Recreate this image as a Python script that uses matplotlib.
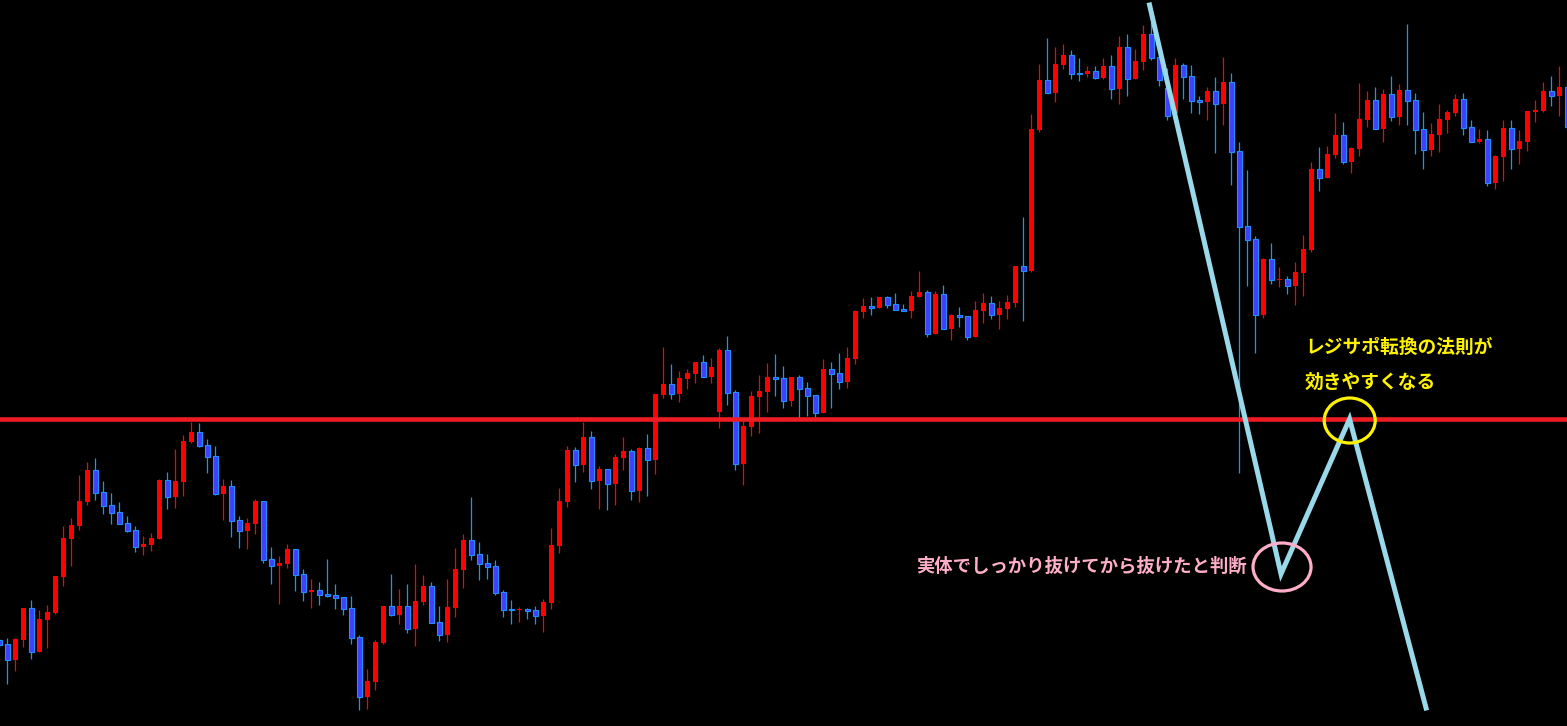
import matplotlib.pyplot as plt
from matplotlib.patches import Ellipse

plt.rcParams['font.family'] = ['Noto Sans CJK JP', 'DejaVu Sans']

# candle data (open, high, low, close)
opens = [86, 82, 66, 86, 118, 74, 106, 113, 149, 187, 200, 224, 256, 234, 221, 214, 203, 196, 179, 181,
         187, 246, 229, 244, 284, 294, 281, 270, 232, 240, 206, 195, 202, 225, 167, 160, 162, 177, 152, 134,
         136, 132, 131, 129, 118, 89, 29, 44, 83, 120, 111, 120, 97, 124, 140, 104, 91, 118, 156, 186,
         172, 163, 160, 134, 117, 116, 117, 116, 110, 123, 180, 224, 276, 261, 289, 245, 257, 242, 268, 275,
         235, 278, 266, 331, 342, 332, 347, 352, 364, 349, 314, 376, 334, 262, 299, 329, 334, 349, 348, 325,
         349, 338, 331, 313, 357, 353, 344, 367, 414, 420, 418, 429, 422, 417, 415, 429, 434, 392, 432, 397,
         411, 410, 389, 415, 423, 411, 417, 423, 460, 455, 596, 646, 633, 661, 671, 653, 652, 655, 648, 660,
         637, 679, 647, 664, 692, 669, 638, 613, 661, 650, 626, 624, 635, 622, 644, 575, 500, 487, 411, 467,
         446, 447, 440, 453, 476, 557, 548, 571, 591, 564, 577, 606, 626, 597, 632, 609, 636, 626, 597, 576,
         591, 606, 613, 627, 599, 584, 587, 543, 569, 598, 577, 584, 614, 615, 635, 630, 639]
highs = [88, 88, 88, 118, 126, 116, 121, 150, 200, 208, 251, 264, 268, 245, 233, 224, 210, 200, 190, 193,
         247, 254, 277, 291, 304, 303, 287, 280, 247, 246, 210, 208, 227, 225, 179, 170, 182, 177, 157, 147,
         144, 167, 142, 129, 130, 91, 57, 86, 120, 152, 137, 142, 162, 151, 144, 120, 147, 178, 192, 229,
         184, 172, 166, 136, 126, 119, 118, 120, 127, 198, 238, 280, 279, 304, 295, 260, 257, 272, 289, 277,
         279, 292, 332, 379, 362, 355, 357, 364, 371, 368, 378, 390, 336, 306, 335, 351, 363, 372, 360, 349,
         351, 344, 331, 367, 364, 373, 379, 416, 428, 429, 429, 430, 433, 422, 435, 455, 436, 435, 441, 412,
         419, 410, 425, 433, 430, 425, 431, 460, 509, 612, 662, 688, 679, 682, 676, 668, 660, 660, 668, 671,
         690, 692, 677, 701, 704, 676, 658, 668, 663, 661, 630, 639, 649, 669, 653, 584, 556, 490, 468, 483,
         459, 450, 464, 491, 564, 579, 580, 613, 604, 579, 643, 635, 639, 637, 650, 642, 702, 633, 614, 603,
         622, 616, 632, 633, 606, 597, 596, 571, 606, 606, 596, 615, 626, 644, 650, 660, 646]
lows = [78, 42, 55, 79, 67, 74, 78, 112, 140, 160, 196, 221, 226, 212, 202, 202, 194, 174, 171, 175,
        187, 217, 218, 230, 283, 279, 253, 231, 206, 189, 178, 177, 192, 163, 142, 122, 158, 135, 125, 118,
        121, 129, 117, 111, 82, 16, 17, 36, 82, 110, 102, 93, 80, 121, 103, 85, 84, 109, 138, 166,
        146, 147, 131, 109, 102, 104, 107, 102, 94, 117, 173, 219, 244, 254, 237, 217, 216, 221, 256, 226,
        224, 230, 252, 328, 327, 324, 337, 343, 349, 343, 298, 321, 256, 241, 290, 293, 314, 330, 318, 320,
        308, 310, 308, 313, 318, 337, 338, 362, 408, 411, 418, 418, 416, 415, 408, 429, 389, 392, 397, 386,
        399, 386, 389, 403, 407, 397, 407, 419, 405, 454, 594, 633, 624, 657, 647, 645, 649, 647, 647, 627,
        622, 630, 647, 656, 666, 640, 606, 608, 627, 613, 612, 606, 573, 601, 541, 253, 440, 373, 408, 442,
        439, 432, 421, 430, 474, 535, 548, 568, 562, 553, 570, 599, 597, 584, 605, 601, 601, 572, 557, 570,
        574, 593, 610, 591, 584, 583, 540, 537, 545, 557, 562, 575, 604, 614, 620, 610, 596]
closes = [81, 66, 87, 118, 74, 107, 114, 150, 188, 201, 225, 256, 233, 220, 213, 202, 195, 179, 182, 188,
          246, 229, 245, 285, 294, 280, 269, 232, 240, 205, 195, 203, 225, 166, 160, 163, 177, 151, 134, 136,
          131, 130, 128, 117, 88, 29, 45, 84, 120, 111, 120, 97, 125, 140, 103, 91, 119, 157, 186, 171,
          162, 159, 133, 116, 116, 117, 115, 110, 124, 181, 225, 276, 261, 289, 245, 257, 242, 269, 275, 235,
          278, 266, 332, 342, 332, 348, 353, 364, 349, 359, 376, 333, 262, 300, 330, 335, 349, 347, 325, 349,
          337, 330, 313, 357, 352, 344, 368, 415, 420, 418, 429, 421, 416, 415, 430, 434, 392, 432, 397, 411,
          409, 389, 416, 423, 411, 418, 424, 460, 455, 597, 646, 633, 662, 671, 652, 652, 655, 648, 660, 637,
          679, 647, 665, 692, 668, 646, 610, 661, 649, 625, 624, 635, 622, 644, 574, 499, 486, 411, 467, 446,
          447, 440, 454, 477, 557, 548, 572, 591, 564, 578, 607, 626, 597, 632, 609, 636, 625, 596, 576, 592,
          607, 614, 627, 598, 584, 587, 543, 570, 598, 577, 585, 615, 616, 635, 630, 639, 599]

# drawn annotations
level = 307
zigzag_x = [143.78, 160.21, 168.78, 178.34]
zigzag_y = [721, 152, 307, 18]
note_pink = "実体でしっかり抜けてから抜けたと判断"
note_yellow = "レジサポ転換の法則が\n効きやすくなる"

fig = plt.figure(figsize=(15.67, 7.26), dpi=100)
fig.patch.set_facecolor('black')
ax = fig.add_axes([0, 0, 1, 1])
ax.set_facecolor('black')

up_col = '#FF0000'
dn_fill = '#4040FF'
dn_edge = '#1E90FF'
bw = 0.625

for i in range(len(opens)):
    o, h, l, c = opens[i], highs[i], lows[i], closes[i]
    if c >= o:
        ax.vlines(i, l, h, color=up_col, lw=0.9, zorder=2)
        ax.bar(i, max(c - o, 1), bottom=o, width=bw, color=up_col, lw=0, zorder=3)
    else:
        ax.vlines(i, l, h, color=dn_edge, lw=0.9, zorder=2)
        ax.bar(i, max(o - c, 1), bottom=c, width=bw, facecolor=dn_fill,
               edgecolor=dn_edge, lw=0.8, zorder=3)

ax.axhline(level, color='#ED1C24', lw=3.3, zorder=4)
ax.plot(zigzag_x, zigzag_y, color='#99D9EA', lw=3.6, zorder=5, solid_joinstyle='miter')

ax.add_patch(Ellipse((168.8, 305.5), 6.375, 45, fill=False, edgecolor='#FFF200', lw=2.3, zorder=6))
ax.add_patch(Ellipse((160.34, 159), 7.25, 48, fill=False, edgecolor='#FFAEC9', lw=2.3, zorder=6))

ax.text(155.96, 160, note_pink, color='#FFAEC9', fontsize=13.2, fontweight='bold',
        ha='right', va='center', zorder=7)
ax.text(163.2, 379, "レジサポ転換の法則が", color='#FFF200', fontsize=13.5, fontweight='bold',
        ha='left', va='center', zorder=7)
ax.text(163.2, 344, "効きやすくなる", color='#FFF200', fontsize=13.5, fontweight='bold',
        ha='left', va='center', zorder=7)

ax.set_xlim(0.0875, 195.96)
ax.set_ylim(0, 726)
ax.axis('off')

fig.savefig('out.png', dpi=100, facecolor='black')
